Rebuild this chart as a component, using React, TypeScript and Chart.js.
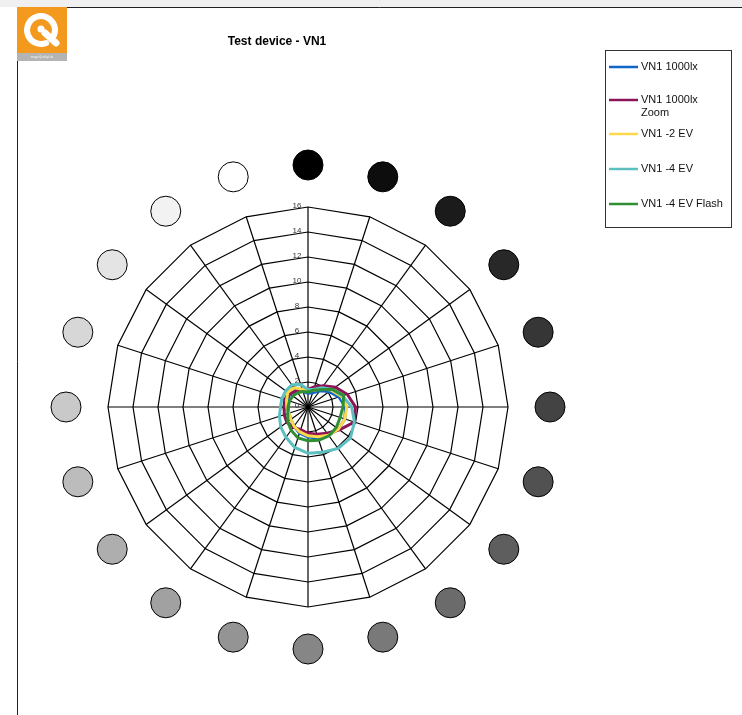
import React, { useEffect, useRef } from "react";
import { Chart, registerables } from "chart.js";

Chart.register(...registerables);

const angles = ["0", "18", "36", "54", "72", "90", "108", "126", "144", "162", "180", "198", "216", "234", "252", "270", "288", "306", "324", "342"];

const seriesNames = ["VN1 1000lx", "VN1 1000lx Zoom", "VN1 -2 EV", "VN1 -4 EV", "VN1 -4 EV Flash"];
const legendLines = [["VN1 1000lx"], ["VN1 1000lx", "Zoom"], ["VN1 -2 EV"], ["VN1 -4 EV"], ["VN1 -4 EV Flash"]];

const vn1000 = [1.1, 1.2, 1.6, 2.1, 2.6, 3.0, 3.1, 3.0, 2.8, 2.6, 2.4, 2.2, 1.9, 1.7, 1.6, 1.6, 1.7, 1.8, 1.6, 1.3];
const vn1000Zoom = [1.4, 1.7, 2.1, 2.7, 3.3, 3.8, 3.9, 3.1, 2.6, 2.3, 2.1, 1.9, 2.0, 2.1, 2.0, 1.9, 1.9, 1.8, 1.6, 1.4];
const vnMinus2 = [1.3, 1.4, 1.8, 2.3, 2.8, 3.1, 3.1, 3.0, 2.8, 2.5, 2.3, 2.1, 1.9, 1.7, 1.6, 1.7, 1.8, 2.0, 1.9, 1.5];
const vnMinus4 = [1.4, 1.5, 1.9, 2.4, 2.9, 3.5, 3.9, 4.2, 4.1, 3.8, 3.7, 3.4, 3.0, 2.7, 2.4, 2.2, 2.2, 2.2, 2.2, 1.9];
const vnMinus4Flash = [1.2, 1.4, 1.7, 2.4, 3.0, 2.8, 2.7, 2.8, 2.85, 2.8, 2.7, 2.6, 2.3, 2.0, 1.7, 1.6, 1.55, 1.5, 1.4, 1.3];

const seriesValues = [vn1000, vn1000Zoom, vnMinus2, vnMinus4, vnMinus4Flash];
const seriesColors = ["#0f66c8", "#8c1458", "#ffd84a", "#5cc0c0", "#2f8f35"];

const tickMin = 0;
const tickMax = 16;
const tickStep = 2;

const FONT = "'Liberation Sans', Arial, sans-serif";

const decorPlugin = {
  id: "decor",
  beforeDraw(chart: any) {
    const ctx = chart.ctx;
    ctx.save();
    ctx.fillStyle = "#ffffff";
    ctx.fillRect(0, 0, chart.width, chart.height);
    ctx.fillStyle = "#f0f0f0";
    ctx.fillRect(0, 0, chart.width, 7);
    ctx.strokeStyle = "#222";
    ctx.lineWidth = 1;
    ctx.beginPath();
    ctx.moveTo(17.5, 7.5);
    ctx.lineTo(chart.width, 7.5);
    ctx.moveTo(17.5, 7.5);
    ctx.lineTo(17.5, chart.height);
    ctx.stroke();

    // logo
    ctx.fillStyle = "#f39a1e";
    ctx.fillRect(17, 7, 50, 46);
    ctx.fillStyle = "#b4b4b4";
    ctx.fillRect(17, 53, 50, 8);
    ctx.fillStyle = "#f4f4f4";
    ctx.font = `3px ${FONT}`;
    ctx.textAlign = "center";
    ctx.textBaseline = "middle";
    ctx.fillText("imageQualityLab", 42, 57);
    ctx.strokeStyle = "#ffffff";
    ctx.lineCap = "round";
    ctx.lineWidth = 6;
    ctx.beginPath();
    ctx.arc(41, 30, 14, Math.PI * 0.38, Math.PI * 0.12 + Math.PI * 2, false);
    ctx.stroke();
    ctx.lineWidth = 7;
    ctx.beginPath();
    ctx.moveTo(45, 33);
    ctx.lineTo(56, 43);
    ctx.stroke();
    ctx.fillStyle = "#ffffff";
    ctx.beginPath();
    ctx.arc(41, 29, 3.5, 0, Math.PI * 2);
    ctx.fill();

    // title
    ctx.fillStyle = "#000";
    ctx.font = `bold 12px ${FONT}`;
    ctx.textAlign = "center";
    ctx.textBaseline = "middle";
    ctx.fillText("Test device - VN1", 277, 42);
    ctx.restore();
  },
  afterDraw(chart: any) {
    const ctx = chart.ctx;
    const scale = chart.scales.r;
    ctx.save();
    // gray circles around
    const n = chart.data.labels.length;
    for (let i = 0; i < n; i++) {
      const p = scale.getPointPosition(i, scale.drawingArea + 42);
      const g = Math.round((i * 255) / (n - 1));
      ctx.fillStyle = `rgb(${g},${g},${g})`;
      ctx.strokeStyle = "#000";
      ctx.lineWidth = 1;
      ctx.beginPath();
      ctx.arc(p.x, p.y, 15, 0, Math.PI * 2);
      ctx.fill();
      ctx.stroke();
    }
    // tick labels
    ctx.fillStyle = "#333";
    ctx.font = `8px ${FONT}`;
    ctx.textAlign = "center";
    ctx.textBaseline = "middle";
    scale.ticks.forEach((t: any) => {
      const d = scale.getDistanceFromCenterForValue(t.value);
      ctx.fillText(String(t.value), scale.xCenter - 11, scale.yCenter - d - 1);
    });

    // legend
    const lx = 605, ly = 50, lw = 126, lh = 177;
    ctx.fillStyle = "#fff";
    ctx.strokeStyle = "#333";
    ctx.lineWidth = 1;
    ctx.fillRect(lx, ly, lw, lh);
    ctx.strokeRect(lx + 0.5, ly + 0.5, lw, lh);
    const itemY = [67, 100, 134, 169, 204];
    ctx.font = `11px ${FONT}`;
    ctx.textAlign = "left";
    chart.data.datasets.forEach((ds: any, i: number) => {
      const y = itemY[i];
      ctx.strokeStyle = ds.borderColor;
      ctx.lineWidth = 2.5;
      ctx.lineCap = "butt";
      ctx.beginPath();
      ctx.moveTo(609, y);
      ctx.lineTo(638, y);
      ctx.stroke();
      ctx.fillStyle = "#111";
      legendLines[i].forEach((line, k) => {
        ctx.fillText(line, 641, y + k * 13);
      });
    });
    ctx.restore();
  },
};

export default function App() {
  const ref = useRef<HTMLCanvasElement | null>(null);
  useEffect(() => {
    if (!ref.current) return;
    const chart = new Chart(ref.current, {
      type: "radar",
      data: {
        labels: angles,
        datasets: seriesNames.map((name, i) => ({
          label: name,
          data: seriesValues[i],
          borderColor: seriesColors[i],
          backgroundColor: "transparent",
          borderWidth: 3,
          pointRadius: 0,
          fill: false,
          tension: 0,
          order: seriesNames.length - 1 - i,
        })),
      },
      options: {
        responsive: false,
        animation: false,
        devicePixelRatio: 1,
        layout: { padding: { left: 108, top: 207, right: 234, bottom: 108 } },
        plugins: {
          legend: { display: false },
          title: { display: false },
          tooltip: { enabled: false },
        },
        scales: {
          r: {
            min: tickMin,
            max: tickMax,
            ticks: { stepSize: tickStep, display: false },
            pointLabels: { display: false },
            grid: { color: "#000", lineWidth: 1.2, circular: false },
            angleLines: { color: "#000", lineWidth: 1.2 },
          },
        },
      },
      plugins: [decorPlugin],
    });
    return () => chart.destroy();
  }, []);
  return (
    <canvas
      ref={ref}
      width={742}
      height={715}
      style={{ position: "fixed", left: 0, top: 0, width: 742, height: 715 }}
    />
  );
}
